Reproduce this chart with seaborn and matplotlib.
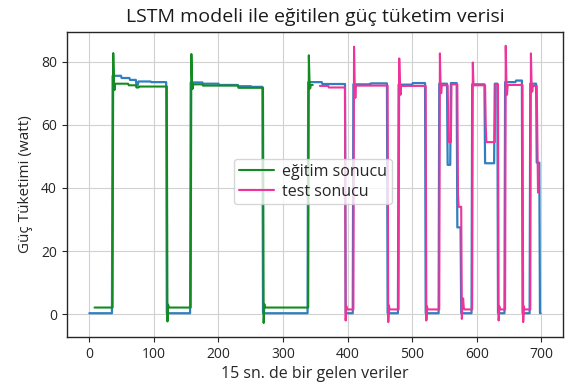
import numpy as np
import pandas as pd
import matplotlib
matplotlib.use("Agg")
import matplotlib.pyplot as plt
import seaborn as sns

# Measured power (watt), stored as runs: index where each level starts, and the level
actual_starts = [0, 36, 50, 63, 73, 76, 96, 120, 157, 176, 201, 231, 251, 269,
                 339, 361, 397, 409, 436, 462, 479, 501, 521, 542, 555, 560, 570,
                 576, 593, 613, 628, 633, 644, 661, 671, 683, 693, 698]
actual_levels = [0.3, 75.5, 74.8, 74.2, 72.6, 73.7, 73.5, 0.3, 73.4, 73.0, 72.6, 72.2, 72.0, 0.3,
                 73.5, 72.9, 0.3, 72.8, 73.1, 0.3, 72.7, 73.2, 0.3, 73.0, 47.3, 73.2, 27.5,
                 0.3, 72.8, 47.8, 73.0, 0.3, 73.5, 74.0, 0.3, 73.0, 48.0, 0.3]
actual_end = 700

# LSTM output on the training part
train_starts = [8, 37, 38, 39, 40, 61, 73, 77, 121, 122, 123, 158, 159, 160, 161,
                176, 231, 270, 271, 272, 340, 341, 342, 343]
train_levels = [2.1, 82.7, 73.8, 71.0, 73.0, 72.5, 71.8, 72.1, -2.3, 3.0, 2.1, 82.4, 73.6, 71.4, 72.8,
                72.4, 71.7, -2.8, 3.2, 2.1, 82.0, 74.0, 71.5, 72.6]
train_end = 347

# LSTM output on the test part
test_starts = [357, 371, 397, 398, 399, 410, 411, 412, 413, 463, 464, 465, 480, 481, 482, 483,
               522, 523, 524, 543, 544, 545, 546, 556, 557, 561, 571, 572, 577, 578, 579, 580,
               581, 594, 595, 614, 615, 629, 634, 635, 636, 645, 646, 647, 648, 672, 673, 674,
               684, 685, 686, 687, 694, 695]
test_levels = [72.3, 71.8, -2.0, 2.6, 1.5, 84.7, 73.0, 68.5, 72.4, -2.5, 2.8, 1.5, 81.0, 72.8, 69.5, 72.3,
               -2.0, 2.5, 1.5, 82.6, 73.0, 70.0, 72.5, 60.0, 54.5, 72.8, 38.0, 34.0, -1.5, 3.0, 5.0, 2.0,
               1.5, 79.7, 72.5, 60.0, 54.5, 72.8, -2.0, 2.5, 1.5, 85.0, 73.5, 69.5, 72.6, -2.5, 2.5, 1.5,
               82.6, 73.0, 70.5, 72.3, 55.0, 38.5]
test_end = 696

title = "LSTM modeli ile eğitilen güç tüketim verisi"
xlabel = "15 sn. de bir gelen veriler"
ylabel = "Güç Tüketimi (watt)"
train_label = "eğitim sonucu"
test_label = "test sonucu"


def expand(starts, levels, end):
    """Turn run starts/levels into a per-sample frame."""
    lengths = np.diff(list(starts) + [end])
    y = np.repeat(levels, lengths)
    x = np.arange(starts[0], end)
    return pd.DataFrame({"x": x, "y": y})


actual = expand(actual_starts, actual_levels, actual_end)
train = expand(train_starts, train_levels, train_end)
test = expand(test_starts, test_levels, test_end)

sns.set_style("whitegrid", {
    "axes.edgecolor": "0.15",
    "grid.color": "0.82",
    "xtick.bottom": True,
    "ytick.left": True,
    "xtick.color": "0.15",
    "ytick.color": "0.15",
})
plt.rcParams["font.family"] = ["Open Sans", "DejaVu Sans"]

fig, ax = plt.subplots(figsize=(5.66, 3.85), dpi=100)
fig.subplots_adjust(left=0.118, right=0.995, top=0.917, bottom=0.125)

sns.lineplot(data=actual, x="x", y="y", ax=ax, color="#2f7fc1", linewidth=1.6)
sns.lineplot(data=train, x="x", y="y", ax=ax, color="#138a22", linewidth=1.5, label=train_label)
sns.lineplot(data=test, x="x", y="y", ax=ax, color="#ee3399", linewidth=1.5, label=test_label)

ax.set_title(title, fontsize=14, color="0.1", pad=7)
ax.set_xlabel(xlabel, fontsize=11.5, color="0.15", labelpad=3)
ax.set_ylabel(ylabel, fontsize=11, color="0.15", labelpad=6)
ax.set_xticks([0, 100, 200, 300, 400, 500, 600, 700])
ax.set_yticks([0, 20, 40, 60, 80])
ax.tick_params(labelsize=10, length=3.5, width=0.8)
for s in ax.spines.values():
    s.set_linewidth(1.0)

ax.legend(loc="upper left", bbox_to_anchor=(0.337, 0.584), borderaxespad=0, fontsize=11.5,
          frameon=True, framealpha=0.8, borderpad=0.3, labelspacing=0.25,
          handlelength=2.2, handletextpad=0.5)

fig.savefig("out.png", dpi=100)
